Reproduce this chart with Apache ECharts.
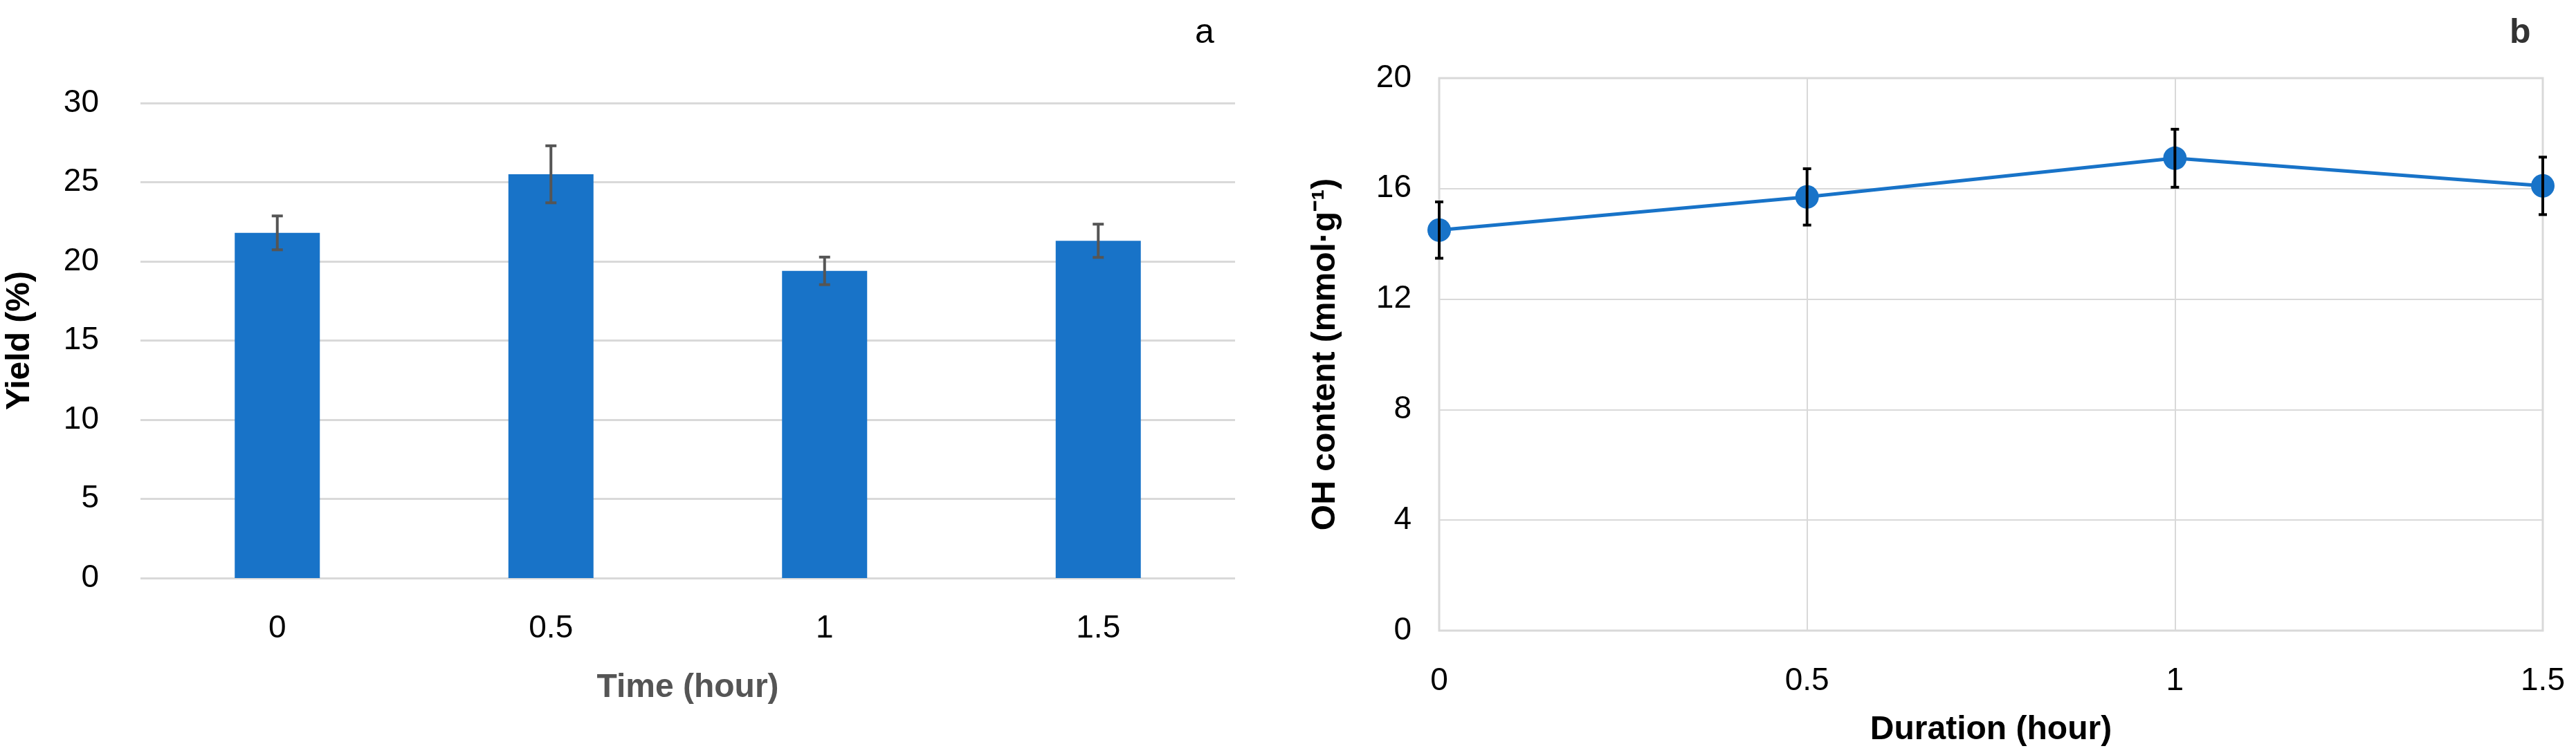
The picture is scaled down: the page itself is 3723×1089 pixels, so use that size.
<!DOCTYPE html>
<html>
<head>
<meta charset="utf-8">
<script src="https://cdn.jsdelivr.net/npm/echarts@6/dist/echarts.min.js"></script>
<style>html,body{margin:0;padding:0;background:#fff}#main{width:3723px;height:1089px}</style>
</head>
<body>
<div id="main"></div>
<script>
// panel a
var timeCats = ['0', '0.5', '1', '1.5'];
var yieldVals = [21.8, 25.5, 19.4, 21.3];
var yieldErr = [1.07, 1.8, 0.87, 1.05];
// panel b
var durX = [0, 0.5, 1, 1.5];
var ohVals = [14.5, 15.7, 17.1, 16.1];
var ohErr = [1.02, 1.02, 1.05, 1.04];

var FONT = 'Liberation Sans';
var blue = '#1873c8';

function errSeries(xIdx, yIdx, xs, vals, errs, color, half) {
  return {
    type: 'custom', xAxisIndex: xIdx, yAxisIndex: yIdx, z: 10,
    data: vals.map(function (v, i) { return [xs[i], v - errs[i], v + errs[i]]; }),
    renderItem: function (params, api) {
      var lo = api.coord([api.value(0), api.value(1)]);
      var hi = api.coord([api.value(0), api.value(2)]);
      var st = { stroke: color, lineWidth: 4 };
      return { type: 'group', children: [
        { type: 'line', shape: { x1: lo[0], y1: lo[1], x2: hi[0], y2: hi[1] }, style: st },
        { type: 'line', shape: { x1: lo[0] - half, y1: lo[1], x2: lo[0] + half, y2: lo[1] }, style: st },
        { type: 'line', shape: { x1: hi[0] - half, y1: hi[1], x2: hi[0] + half, y2: hi[1] }, style: st }
      ] };
    }
  };
}

var chart = echarts.init(document.getElementById('main'));
var lbl = { fontFamily: FONT, fontSize: 46, color: '#000' };
var option = {
  animation: false,
  textStyle: { fontFamily: FONT },
  title: [
    { text: 'a', left: 1722, top: 18, textStyle: { fontFamily: FONT, fontSize: 50, fontWeight: 'normal', color: '#000' } },
    { text: 'b', left: 3622, top: 18, textStyle: { fontFamily: FONT, fontSize: 50, fontWeight: 'bold', color: '#333' } }
  ],
  grid: [
    { left: 203, width: 1582, top: 149, height: 687 },
    { left: 2080, width: 1595, top: 113, height: 799, show: true, borderColor: '#d9d9d9', borderWidth: 3 }
  ],
  xAxis: [
    { type: 'category', gridIndex: 0, data: timeCats,
      axisLine: { show: false }, axisTick: { show: false },
      axisLabel: Object.assign({ margin: 50 }, lbl),
      name: 'Time (hour)', nameLocation: 'middle', nameGap: 135,
      nameTextStyle: { fontFamily: FONT, fontSize: 48, fontWeight: 'bold', color: '#555' } },
    { type: 'value', gridIndex: 1, min: 0, max: 1.5, interval: 0.5,
      axisLine: { show: false }, axisTick: { show: false },
      splitLine: { show: true, lineStyle: { color: '#d9d9d9', width: 2 } },
      axisLabel: Object.assign({ margin: 50 }, lbl),
      name: 'Duration (hour)', nameLocation: 'middle', nameGap: 120,
      nameTextStyle: { fontFamily: FONT, fontSize: 48, fontWeight: 'bold', color: '#000' } }
  ],
  yAxis: [
    { type: 'value', gridIndex: 0, min: 0, max: 30, interval: 5,
      axisLine: { show: false }, axisTick: { show: false },
      splitLine: { lineStyle: { color: '#d9d9d9', width: 3 } },
      axisLabel: Object.assign({ margin: 60 }, lbl),
      name: 'Yield (%)', nameLocation: 'middle', nameGap: 150,
      nameTextStyle: { fontFamily: FONT, fontSize: 48, fontWeight: 'bold', color: '#000' } },
    { type: 'value', gridIndex: 1, min: 0, max: 20, interval: 4,
      axisLine: { show: false }, axisTick: { show: false },
      splitLine: { lineStyle: { color: '#d9d9d9', width: 2 } },
      axisLabel: Object.assign({ margin: 40 }, lbl),
      name: 'OH content (mmol·g⁻¹)', nameLocation: 'middle', nameGap: 140,
      nameTextStyle: { fontFamily: FONT, fontSize: 48, fontWeight: 'bold', color: '#000' } }
  ],
  series: [
    { type: 'bar', xAxisIndex: 0, yAxisIndex: 0, data: yieldVals, barWidth: 123,
      itemStyle: { color: blue } },
    errSeries(0, 0, timeCats, yieldVals, yieldErr, '#555', 8),
    { type: 'line', xAxisIndex: 1, yAxisIndex: 1,
      data: durX.map(function (x, i) { return [x, ohVals[i]]; }),
      symbol: 'circle', symbolSize: 34,
      lineStyle: { color: blue, width: 5 }, itemStyle: { color: blue } },
    errSeries(1, 1, durX, ohVals, ohErr, '#000', 6)
  ]
};
chart.setOption(option);
</script>
</body>
</html>
